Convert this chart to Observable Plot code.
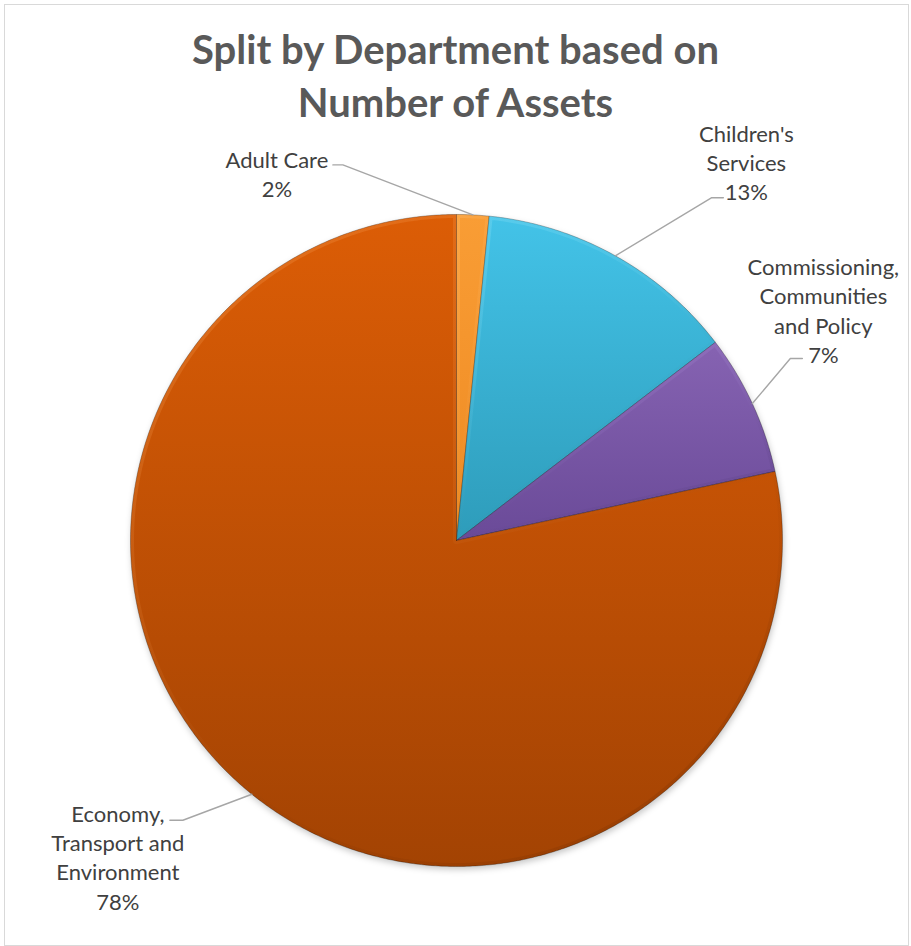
<!DOCTYPE html>
<html>
<head>
<meta charset="utf-8">
<script src="https://cdn.jsdelivr.net/npm/d3@7"></script>
<script src="https://cdn.jsdelivr.net/npm/@observablehq/plot@0.6"></script>
<style>
  body { margin: 0; background: #fff; }
  #wrap { position: relative; width: 911px; height: 946px; overflow: hidden; font-family: Lato, "Open Sans", sans-serif; }
  #frame { position: absolute; left: 4px; top: 4px; width: 905px; height: 942px; border: 1.5px solid #d9d9d9; box-sizing: border-box; }
  #title { position: absolute; left: 0; width: 911px; top: 23px; text-align: center; font-weight: bold; font-size: 40px; line-height: 53px; color: #595959; }
  #plot { position: absolute; left: 0; top: 110px; }
  #plot svg { overflow: visible; }
</style>
</head>
<body>
<div id="wrap">
  <div id="frame"></div>
  <div id="title">Split by Department based on<br>Number of Assets</div>
  <div id="plot"></div>
</div>
<script>
// ---- data ----
const departments = ["Adult Care", "Children's Services", "Commissioning, Communities and Policy", "Economy, Transport and Environment"];
const labelLines = [["Adult Care"], ["Children's", "Services"], ["Commissioning,", "Communities", "and Policy"], ["Economy,", "Transport and", "Environment"]];
const shares = [1.6, 13.0, 7.0, 78.4];
const percentLabels = ["2%", "13%", "7%", "78%"];

// ---- styles ----
const colorTop = ["#f99d35", "#43c3e8", "#8663b2", "#dc5d06"];
const colorBottom = ["#ee8a22", "#2e9cba", "#6a4a98", "#a34303"];
const bevelLight = ["#ffc27a", "#8fe2f7", "#b59be0", "#f8a35a"];
const bevelDark = ["#a85a10", "#1d6f86", "#45306a", "#6e2c02"];

// ---- layout ----
const W = 911, H = 830, R = 326, CX = 456, CY = 430;
// label placement: pixel offsets from the slice's outer mid-point
const labelLayout = [
  {elbow: [-130, -50], end: [-140, -50], text: [-196, -42]},
  {elbow: [96, -58], end: [108, -58], text: [131, -94]},
  {elbow: [38, -45], end: [50, -45], text: [71, -94]},
  {elbow: [-69, 26], end: [-82, 26], text: [-134, 62]}
];

const arcs = d3.pie().sort(null).value(d => d)(shares);
const slices = [];
arcs.forEach((a, i) => {
  const n = Math.max(6, Math.ceil((a.endAngle - a.startAngle) / (Math.PI / 360)));
  slices.push({s: i, x: 0, y: 0});
  for (let k = 0; k <= n; ++k) {
    const t = a.startAngle + (a.endAngle - a.startAngle) * k / n;
    slices.push({s: i, x: Math.sin(t), y: Math.cos(t)});
  }
  slices.push({s: i, x: 0, y: 0});
});

const off = (p, o) => ({x: p.x + o[0] / R, y: p.y - o[1] / R});
const leaders = [];
const labels = [];
arcs.forEach((a, i) => {
  const m = (a.startAngle + a.endAngle) / 2;
  const p = {x: Math.sin(m), y: Math.cos(m)};
  const L = labelLayout[i];
  leaders.push({k: i, ...p}, {k: i, ...off(p, L.elbow)}, {k: i, ...off(p, L.end)});
  labels.push({...off(p, L.text), t: [...labelLines[i], percentLabels[i]].join("\n")});
});

const plot = Plot.plot({
  width: W, height: H, margin: 0,
  style: {fontFamily: "Lato, 'Open Sans', sans-serif", background: "transparent", overflow: "visible"},
  x: {domain: [-CX / R, (W - CX) / R], axis: null},
  y: {domain: [-(H - CY) / R, CY / R], axis: null},
  marks: [
    // soft shadow under the pie
    Plot.line(slices, {x: "x", y: "y", z: "s", curve: "linear", fill: "#000", fillOpacity: 0.22, stroke: "none", dx: 1, dy: 3}),
    // slices
    Plot.line(slices, {
      x: "x", y: "y", z: "s", curve: "linear",
      fill: "#dc5d06", stroke: "#000", strokeOpacity: 0.28, strokeWidth: 1, strokeLinejoin: "round"
    }),
    Plot.line(leaders, {x: "x", y: "y", z: "k", stroke: "#a6a6a6", strokeWidth: 1.4}),
    Plot.text(labels, {x: "x", y: "y", text: "t", fontSize: 22, lineHeight: 1.33, fill: "#404040", textAnchor: "middle"})
  ]
});

const svg = d3.select(plot);
const defs = svg.insert("defs", ":first-child");
colorTop.forEach((c, i) => {
  const g = defs.append("linearGradient").attr("id", `grad${i}`).attr("x1", 0).attr("y1", 0).attr("x2", 0).attr("y2", 1);
  g.append("stop").attr("offset", "0%").attr("stop-color", c);
  g.append("stop").attr("offset", "100%").attr("stop-color", colorBottom[i]);
  const b = defs.append("linearGradient").attr("id", `bevel${i}`).attr("x1", 0.2).attr("y1", 0).attr("x2", 0.8).attr("y2", 1);
  b.append("stop").attr("offset", "0%").attr("stop-color", bevelLight[i]).attr("stop-opacity", 0.95);
  b.append("stop").attr("offset", "45%").attr("stop-color", bevelLight[i]).attr("stop-opacity", 0.35);
  b.append("stop").attr("offset", "70%").attr("stop-color", bevelDark[i]).attr("stop-opacity", 0.2);
  b.append("stop").attr("offset", "100%").attr("stop-color", bevelDark[i]).attr("stop-opacity", 0.85);
});
const blur = defs.append("filter").attr("id", "pieblur").attr("x", "-20%").attr("y", "-20%").attr("width", "140%").attr("height", "140%");
blur.append("feGaussianBlur").attr("stdDeviation", 3);

const lineGroups = svg.selectAll("g[aria-label=line]").nodes();
d3.select(lineGroups[0]).attr("filter", "url(#pieblur)");
const sliceGroup = d3.select(lineGroups[1]);
sliceGroup.selectAll("path").each(function(_, i) {
  const p = d3.select(this).attr("fill", `url(#grad${i})`);
  const d = p.attr("d");
  defs.append("clipPath").attr("id", `clip${i}`).append("path").attr("d", d);
  const tr = this.getAttribute("transform");
  const bevel = sliceGroup.append("path")
    .attr("d", d)
    .attr("fill", "none")
    .attr("stroke", `url(#bevel${i})`)
    .attr("stroke-width", 7)
    .attr("stroke-linejoin", "round")
    .attr("clip-path", `url(#clip${i})`);
  if (tr) bevel.attr("transform", tr);
});

document.getElementById("plot").appendChild(plot);
</script>
</body>
</html>
